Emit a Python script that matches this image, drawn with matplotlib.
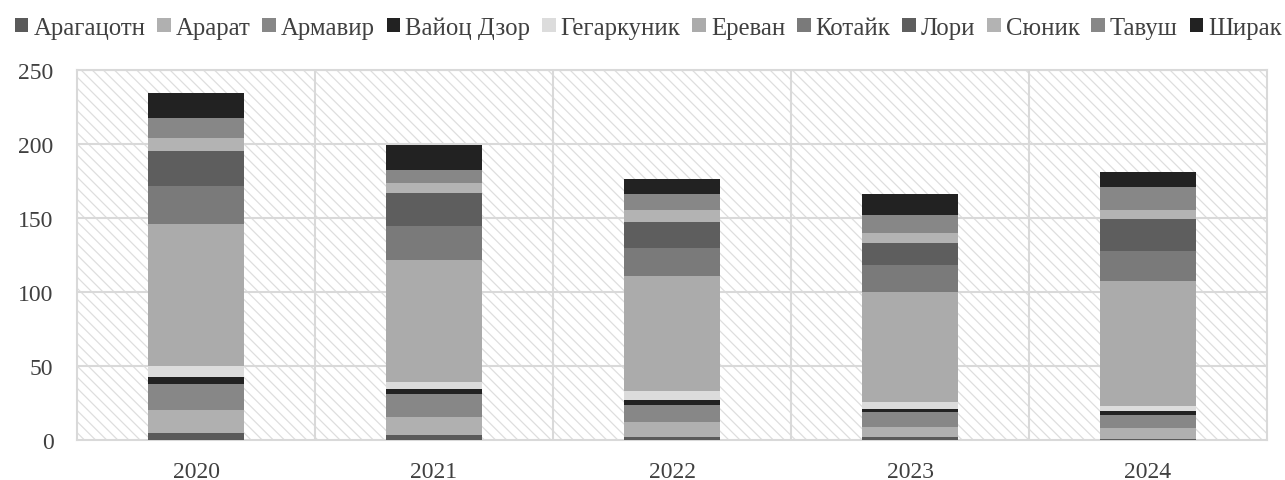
import matplotlib
matplotlib.use("Agg")
import matplotlib.pyplot as plt
from matplotlib.patches import Rectangle
import numpy as np

plt.rcParams['font.family'] = ['Liberation Serif', 'DejaVu Serif']
plt.rcParams['hatch.linewidth'] = 0.9

years = ["2020", "2021", "2022", "2023", "2024"]
regions = ["Арагацотн", "Арарат", "Армавир", "Вайоц Дзор", "Гегаркуник", "Ереван",
           "Котайк", "Лори", "Сюник", "Тавуш", "Ширак"]
colors = ["#5a5a5a", "#b0b0b0", "#878787", "#222222", "#dcdcdc", "#ababab",
          "#7a7a7a", "#5e5e5e", "#b3b3b3", "#878787", "#222222"]

aragatsotn = [5.0, 3.4, 2.2, 2.0, 0.7]
ararat = [15.3, 12.0, 9.7, 7.0, 7.2]
armavir = [17.8, 15.5, 11.9, 9.7, 9.2]
vayots_dzor = [4.7, 3.4, 3.0, 2.2, 2.3]
gegharkunik = [7.2, 4.7, 6.1, 4.5, 3.8]
yerevan = [96.0, 82.8, 78.1, 74.3, 84.3]
kotayk = [25.9, 22.8, 18.9, 18.4, 20.3]
lori = [23.6, 22.3, 17.2, 15.3, 21.6]
syunik = [8.6, 6.8, 8.5, 6.3, 6.1]
tavush = [13.7, 8.8, 10.6, 12.6, 15.3]
shirak = [16.9, 16.9, 10.1, 14.2, 10.5]

series = [aragatsotn, ararat, armavir, vayots_dzor, gegharkunik, yerevan,
          kotayk, lori, syunik, tavush, shirak]

fig = plt.figure(figsize=(12.85, 4.81), dpi=100)
ax = fig.add_axes([77/1285, 40/481, 1190/1285, 370/481])

grid_c = "#d9d9d9"
ax.add_patch(Rectangle((0, 0), 1, 1, transform=ax.transAxes, facecolor="white",
                       edgecolor="#dedede", hatch='\\\\\\', linewidth=0, zorder=0))

x = np.arange(len(years))
bottom = np.zeros(len(years))
for name, vals, c in zip(regions, series, colors):
    ax.bar(x, vals, width=0.4, bottom=bottom, color=c, label=name, zorder=3,
           linewidth=0)
    bottom += np.array(vals)

ax.set_xlim(-0.5, len(years) - 0.5)
ax.set_ylim(0, 250)
ax.set_yticks(range(0, 251, 50))
ax.set_xticks(x)
ax.set_xticklabels(years)
for yv in range(50, 251, 50):
    ax.axhline(yv, color=grid_c, linewidth=1.5, zorder=1)
for xv in np.arange(0.5, len(years) - 0.5, 1):
    ax.axvline(xv, color=grid_c, linewidth=1.5, zorder=1)
for s in ax.spines.values():
    s.set_color(grid_c)
    s.set_linewidth(1.5)
ax.tick_params(axis='both', length=0, labelsize=17, colors="#404040")
ax.tick_params(axis='x', pad=15)
ax.tick_params(axis='y', pad=17)

fig.legend(loc="upper left", bbox_to_anchor=(0.0, 0.995), ncol=11, frameon=False,
           fontsize=17.8, handlelength=0.55, handleheight=0.55, handletextpad=0.2,
           columnspacing=0.48, labelcolor="#404040", borderaxespad=0.2)

fig.savefig("out.png", dpi=100)
